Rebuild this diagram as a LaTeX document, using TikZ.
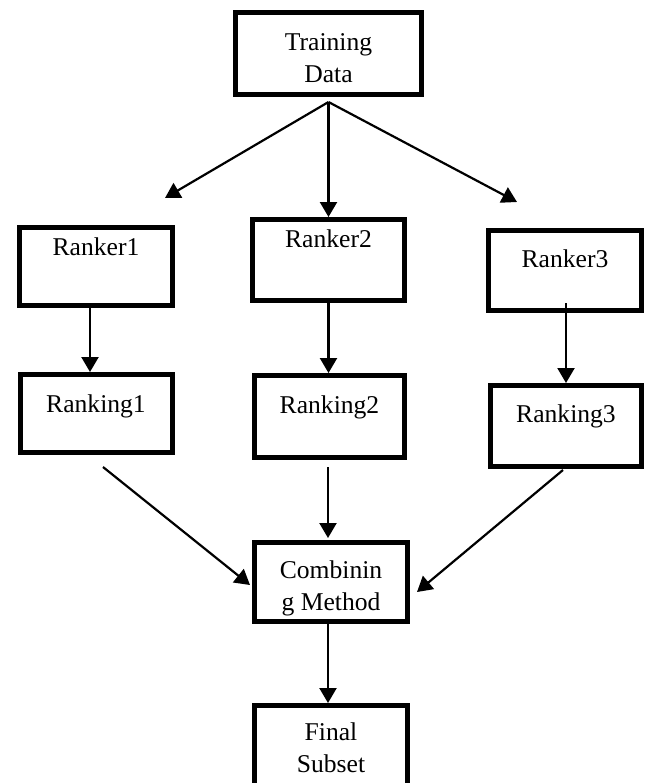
\documentclass[tikz,border=0pt]{standalone}
\usepackage{fontspec}
\setmainfont{Liberation Serif}
\usetikzlibrary{arrows.meta,calc}
\begin{document}
\begin{tikzpicture}[x=0.5pt,y=-0.5pt,font=\fontsize{12.8}{16}\selectfont,
	box/.style={draw,line width=2.5pt,inner sep=0pt,minimum width=76.5pt,align=center,anchor=north},
	tbox/.style 2 args={box,text height=#1,text depth=#2},
	arr/.style={-{Triangle[length=7.5pt,width=8.5pt]},line width=1.1pt}]
	\useasboundingbox (0,0) rectangle (648,783);
	\node[tbox={34.75pt}{6.25pt},minimum width=93pt] (td) at (328.5,10) {Training\\Data};
	\node[tbox={13.75pt}{25.25pt}] (rk1) at (96,225) {Ranker1};
	\node[tbox={13.75pt}{26.75pt},minimum width=76pt] (rk2) at (328.5,217) {Ranker2};
	\node[tbox={18.25pt}{21.75pt}] (rk3) at (565,228) {Ranker3};
	\node[tbox={18.75pt}{20.25pt},minimum width=76pt] (rkg1) at (96,372) {Ranking1};
	\node[tbox={18.75pt}{22.25pt},minimum width=75pt] (rkg2) at (329.5,373) {Ranking2};
	\node[tbox={18.25pt}{22.25pt},minimum width=75.5pt] (rkg3) at (566,383) {Ranking3};
	\node[tbox={33.75pt}{5.75pt}] (cmb) at (331,540) {Combinin\\g Method};
	\node[tbox={33.25pt}{15pt}] (fin) at (331,703) {Final\\Subset};
	% fan out of the training data
	\coordinate (fan) at ($(td.south)+(0,5)$);
	\coordinate (l1) at (165,198);
	\coordinate (r1) at (517,202);
	\draw[arr] (fan) -- (l1);
	\draw[arr] (fan) -- (fan |- rk2.north);
	\draw[arr] (fan) -- (r1);
	% rankers to rankings
	\draw[arr] ($(rk1.south)+(-6,0)$) -- ($(rkg1.north)+(-6,0)$);
	\draw[arr] (rk2.south) -- (rk2.south |- rkg2.north);
	\draw[arr] ($(rk3.south)+(1,-10)$) -- ($(rkg3.north)+(0,0)$);
	% rankings to the combining method
	\draw[arr] ($(rkg1.south)+(7,12)$) -- ($(cmb.west)+(-2,3)$);
	\draw[arr] ($(rkg2.south)+(-1.5,7)$) -- ($(cmb.north)+(-3,-2)$);
	\draw[arr] ($(rkg3.south)+(-3,1)$) -- ($(cmb.east)+(7,10)$);
	\draw[arr] ($(cmb.south)+(-3,0)$) -- ($(fin.north)+(-3,0)$);
\end{tikzpicture}
\end{document}
